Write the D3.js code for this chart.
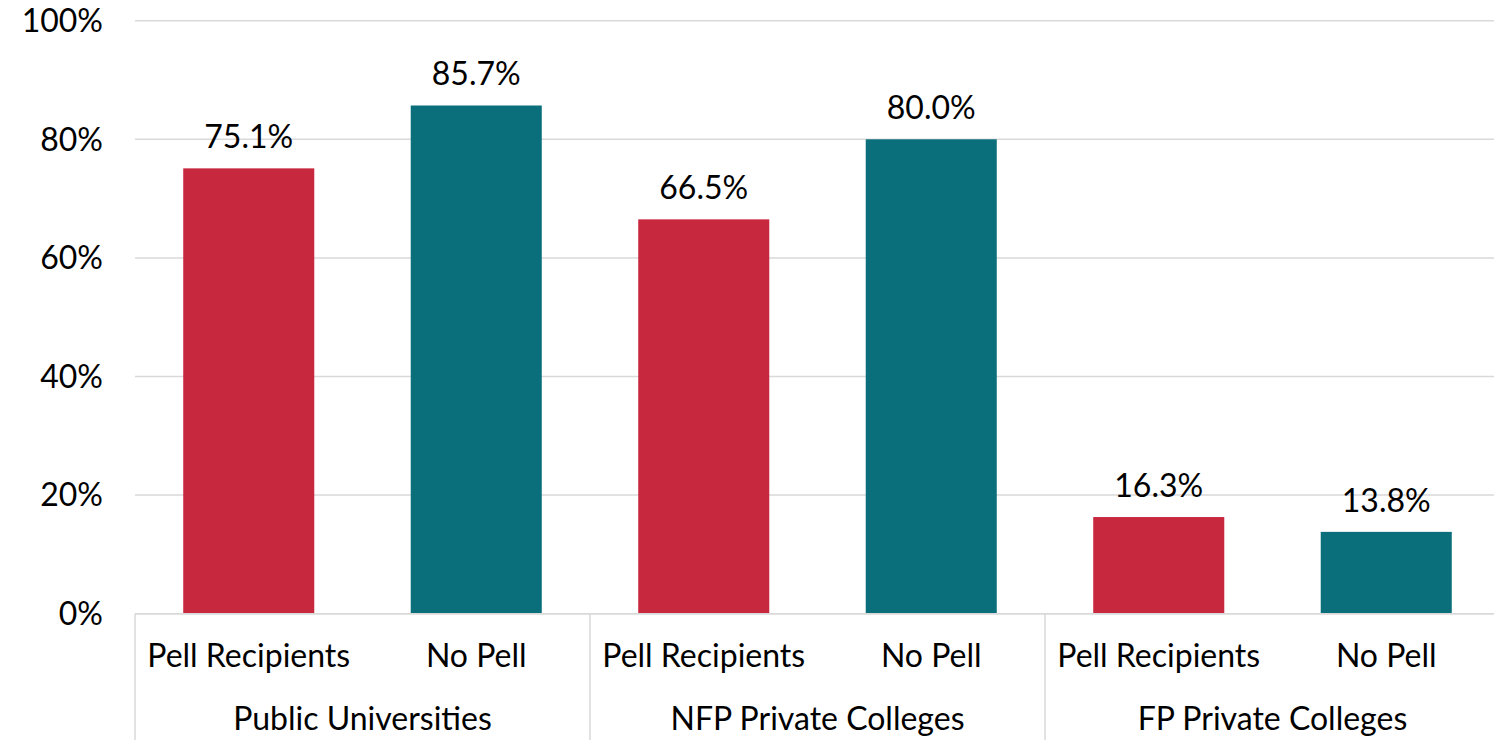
<!DOCTYPE html>
<html>
<head>
<meta charset="utf-8">
<script src="https://cdn.jsdelivr.net/npm/d3@7"></script>
<style>
  html, body { margin: 0; padding: 0; background: #fff; }
  svg { display: block; }
  text { font-family: "Lato", "Noto Sans", sans-serif; fill: #000; }
</style>
</head>
<body>
<svg id="chart" width="1494" height="740"></svg>
<script>
// Graduation share by institution type and Pell status
const groups = ["Public Universities", "NFP Private Colleges", "FP Private Colleges"];
const subgroups = ["Pell Recipients", "No Pell"];
const pellValues = [75.1, 66.5, 16.3];
const noPellValues = [85.7, 80.0, 13.8];
const yTicks = [0, 20, 40, 60, 80, 100];
const colors = ["#C8283E", "#0B6F7B"];

const rows = groups.flatMap((g, i) => [
  { group: g, sub: subgroups[0], value: pellValues[i], color: colors[0] },
  { group: g, sub: subgroups[1], value: noPellValues[i], color: colors[1] }
]);

const svg = d3.select("#chart");
const plotLeft = 135, plotRight = 1500, plotTop = 20.7, plotBottom = 613.7;
const fontSize = 32;

const x0 = d3.scaleBand().domain(groups).range([plotLeft, plotRight]).paddingInner(0).paddingOuter(0);
const x1 = d3.scaleBand().domain(subgroups).range([0, x0.bandwidth()]).paddingInner(0.424).paddingOuter(0.212);
const y = d3.scaleLinear().domain([0, 100]).range([plotBottom, plotTop]);

// horizontal gridlines
svg.append("g")
  .selectAll("line")
  .data(yTicks)
  .join("line")
  .attr("x1", plotLeft).attr("x2", plotRight)
  .attr("y1", d => y(d)).attr("y2", d => y(d))
  .attr("stroke", "#D9D9D9")
  .attr("stroke-width", 1.5);

// y-axis labels
svg.append("g")
  .selectAll("text")
  .data(yTicks)
  .join("text")
  .attr("x", 103)
  .attr("y", d => y(d))
  .attr("dy", "0.35em")
  .attr("text-anchor", "end")
  .style("font-size", fontSize + "px")
  .text(d => d + "%");

// bars
svg.append("g")
  .selectAll("rect")
  .data(rows)
  .join("rect")
  .attr("x", d => x0(d.group) + x1(d.sub))
  .attr("width", x1.bandwidth())
  .attr("y", d => y(d.value))
  .attr("height", d => y(0) - y(d.value))
  .attr("fill", d => d.color);

// value labels
svg.append("g")
  .selectAll("text")
  .data(rows)
  .join("text")
  .attr("x", d => x0(d.group) + x1(d.sub) + x1.bandwidth() / 2)
  .attr("y", d => y(d.value) - 20)
  .attr("text-anchor", "middle")
  .style("font-size", fontSize + "px")
  .text(d => d.value.toFixed(1) + "%");

// category axis: baseline, separators, labels
svg.append("line")
  .attr("x1", plotLeft).attr("x2", plotRight)
  .attr("y1", y(0)).attr("y2", y(0))
  .attr("stroke", "#D9D9D9").attr("stroke-width", 1.5);

const seps = groups.map(g => x0(g)).concat([plotRight]);
svg.append("g")
  .selectAll("line")
  .data(seps)
  .join("line")
  .attr("x1", d => d).attr("x2", d => d)
  .attr("y1", y(0)).attr("y2", 740)
  .attr("stroke", "#D9D9D9").attr("stroke-width", 1.5);

svg.append("g")
  .selectAll("text")
  .data(rows)
  .join("text")
  .attr("x", d => x0(d.group) + x1(d.sub) + x1.bandwidth() / 2)
  .attr("y", 667)
  .attr("text-anchor", "middle")
  .style("font-size", fontSize + "px")
  .text(d => d.sub);

svg.append("g")
  .selectAll("text")
  .data(groups)
  .join("text")
  .attr("x", d => x0(d) + x0.bandwidth() / 2)
  .attr("y", 730)
  .attr("text-anchor", "middle")
  .style("font-size", fontSize + "px")
  .text(d => d);
</script>
</body>
</html>
